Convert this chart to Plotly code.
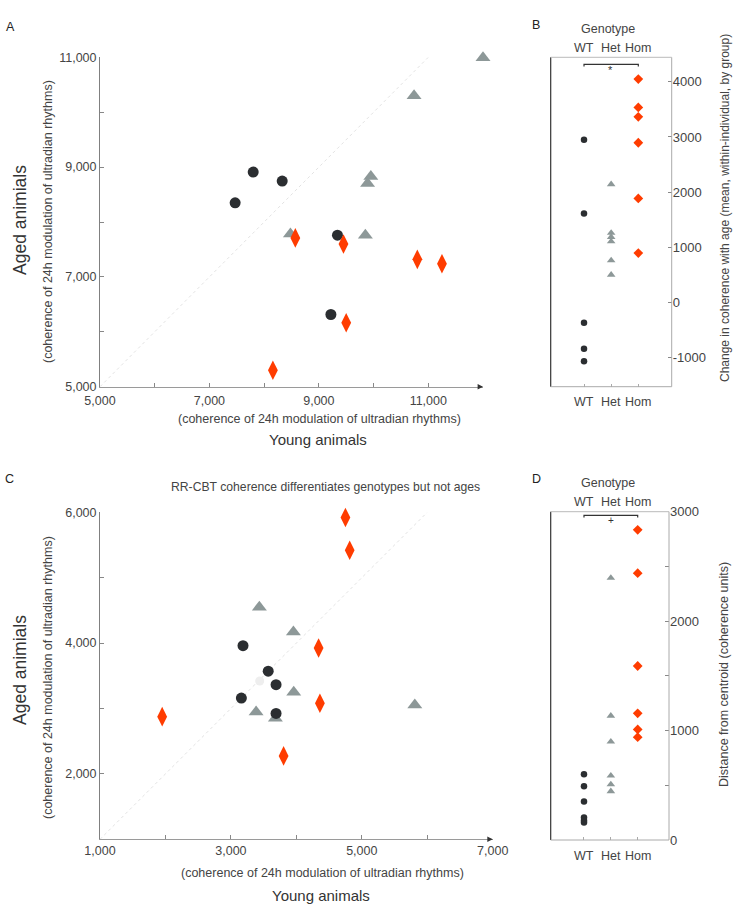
import plotly.graph_objects as go

W, H = 736, 905
FONT = "Liberation Sans, Arial, sans-serif"

# ---------------- DATA ----------------
# Panel A: young vs aged coherence
a_wt_young = [7470, 7800, 8330, 9340, 9220]
a_wt_aged = [8350, 8910, 8745, 7760, 6315]
a_het_young = [12000, 10740, 9950, 9890, 8480, 9850]
a_het_aged = [10990, 10300, 8830, 8700, 7780, 7760]
a_hom_young = [8570, 9450, 9500, 10800, 11250, 8160]
a_hom_aged = [7710, 7600, 6165, 7320, 7240, 5300]
a_diag = [5000, 11000]
a_xticks = [5000, 6000, 7000, 8000, 9000, 10000, 11000, 12000]
a_xtext = ["5,000", "", "7,000", "", "9,000", "", "11,000", ""]
a_yticks = [5000, 6000, 7000, 8000, 9000, 10000, 11000]
a_ytext = ["5,000", "", "7,000", "", "9,000", "", "11,000"]

# Panel B: change in coherence with age, by genotype
genotypes = ["WT", "Het", "Hom"]
b_wt = [2950, 1610, -370, -840, -1070]
b_het = [2140, 1260, 1185, 1105, 760, 500]
b_hom = [4050, 3535, 3365, 2895, 1885, 895]
b_yticks = [-1000, 0, 1000, 2000, 3000, 4000]

# Panel C: RR-CBT coherence, young vs aged
c_wt_young = [3185, 3570, 3690, 3160, 3690]
c_wt_aged = [3960, 3570, 3365, 3160, 2925]
c_het_young = [3435, 3955, 3960, 3385, 3680, 5810]
c_het_aged = [4550, 4170, 3250, 2945, 2850, 3055]
c_hom_young = [4750, 4815, 4340, 4360, 1950, 3805]
c_hom_aged = [5920, 5420, 3925, 3080, 2875, 2275]
c_faint_young = [3440]
c_faint_aged = [3420]
c_diag = [1000, 6000]
c_xticks = [1000, 2000, 3000, 4000, 5000, 6000, 7000]
c_xtext = ["1,000", "", "3,000", "", "5,000", "", "7,000"]
c_yticks = [2000, 3000, 4000, 5000, 6000]
c_ytext = ["2,000", "", "4,000", "", "6,000"]

# Panel D: distance from centroid, by genotype
d_wt = [600, 492, 352, 205, 178, 160]
d_het = [2395, 1135, 898, 588, 508, 445]
d_hom = [2835, 2438, 1590, 1158, 1010, 940]
d_yticks = [0, 500, 1000, 1500, 2000, 2500, 3000]
d_ytext = ["0", "", "1000", "", "2000", "", "3000"]

# ---------------- STYLE ----------------
C_WT = "#2b2e31"
C_HET = "#8d9898"
C_HOM = "#ff3c00"
TXT = "#444444"

def px(x, y):
    return x / W, 1 - y / H

fig = go.Figure()

def add_scatter(xs, ys, color, symbol, size, xa, ya):
    fig.add_trace(go.Scatter(x=xs, y=ys, mode="markers", xaxis=xa, yaxis=ya,
                             marker=dict(color=color, symbol=symbol, size=size,
                                         line=dict(width=0)),
                             cliponaxis=False, showlegend=False, hoverinfo="skip"))

# Panel A
fig.add_trace(go.Scatter(x=a_diag, y=a_diag, mode="lines", xaxis="x", yaxis="y",
                         line=dict(color="#e2e2e2", width=1, dash="dot"),
                         showlegend=False, hoverinfo="skip"))
add_scatter(a_wt_young, a_wt_aged, C_WT, "circle", 11, "x", "y")
add_scatter(a_het_young, a_het_aged, C_HET, "triangle-up", 13, "x", "y")
add_scatter(a_hom_young, a_hom_aged, C_HOM, "diamond-tall", 14, "x", "y")

# Panel B
add_scatter([genotypes.index("WT")] * len(b_wt), b_wt, C_WT, "circle", 6.5, "x2", "y2")
add_scatter([genotypes.index("Het")] * len(b_het), b_het, C_HET, "triangle-up", 7.5, "x2", "y2")
add_scatter([genotypes.index("Hom")] * len(b_hom), b_hom, C_HOM, "diamond", 7.5, "x2", "y2")

# Panel C
fig.add_trace(go.Scatter(x=c_diag, y=c_diag, mode="lines", xaxis="x3", yaxis="y3",
                         line=dict(color="#e2e2e2", width=1, dash="dot"),
                         showlegend=False, hoverinfo="skip"))
add_scatter(c_faint_young, c_faint_aged, "#eeeeee", "circle", 9, "x3", "y3")
add_scatter(c_het_young, c_het_aged, C_HET, "triangle-up", 13, "x3", "y3")
add_scatter(c_wt_young, c_wt_aged, C_WT, "circle", 11, "x3", "y3")
add_scatter(c_hom_young, c_hom_aged, C_HOM, "diamond-tall", 14, "x3", "y3")

# Panel D
add_scatter([genotypes.index("WT")] * len(d_wt), d_wt, C_WT, "circle", 6.5, "x4", "y4")
add_scatter([genotypes.index("Het")] * len(d_het), d_het, C_HET, "triangle-up", 7.5, "x4", "y4")
add_scatter([genotypes.index("Hom")] * len(d_hom), d_hom, C_HOM, "diamond", 7.5, "x4", "y4")

tickfont = dict(family=FONT, size=12.5, color=TXT)

def scatter_x(domain, rng, tv, tt, anchor, standoff):
    return dict(domain=domain, range=rng, anchor=anchor, showline=True, linecolor="#9a9a9a",
                linewidth=1, ticks="inside", ticklen=4, tickcolor="#888", tickwidth=1,
                tickvals=tv, ticktext=tt, tickfont=tickfont, showgrid=False, zeroline=False,
                ticklabelstandoff=standoff, fixedrange=True, automargin=False)

def scatter_y(domain, rng, tv, tt, anchor):
    return dict(domain=domain, range=rng, anchor=anchor, showline=True, linecolor="#808080",
                linewidth=1, ticks="inside", ticklen=4, tickcolor="#888", tickwidth=1,
                tickvals=tv, ticktext=tt, tickfont=tickfont, showgrid=False, zeroline=False,
                ticklabelstandoff=0, fixedrange=True, automargin=False)

def cat_x(domain, rng, anchor):
    return dict(domain=domain, range=rng, anchor=anchor, showline=False, showgrid=False,
                zeroline=False, tickvals=[0, 1, 2], ticktext=["", "", ""], ticks="inside",
                ticklen=3, tickcolor="#aaa", fixedrange=True, automargin=False)

def cat_y(domain, rng, tv, tt, anchor):
    return dict(domain=domain, range=rng, anchor=anchor, side="right", showline=False,
                showgrid=False, zeroline=False, ticks="inside", ticklen=4, tickcolor="#888",
                tickvals=tv, ticktext=tt, tickfont=dict(family=FONT, size=13, color=TXT),
                ticklabelstandoff=0, fixedrange=True, automargin=False)

yA = [1 - 386.7 / H, 1 - 57.3 / H]
yC = [1 - 839.3 / H, 1 - 512.3 / H]
yD = [1 - 840 / H, 1 - 511.7 / H]

fig.update_layout(
    template="none",
    width=W, height=H, margin=dict(l=0, r=0, t=0, b=0, pad=0, autoexpand=False),
    paper_bgcolor="white", plot_bgcolor="white",
    font=dict(family=FONT, color=TXT),
    xaxis=scatter_x([100 / W, 483 / W], [5000, 12000], a_xticks, a_xtext, "y", 2),
    yaxis=scatter_y(yA, [5000, 11000], a_yticks, a_ytext, "x"),
    xaxis2=cat_x([550.7 / W, 671.7 / W], [-1.227, 3.23], "y2"),
    yaxis2=cat_y(yA, [-1530, 4445], b_yticks, [str(v) for v in b_yticks], "x2"),
    xaxis3=scatter_x([100 / W, 492.7 / W], [1000, 7000], c_xticks, c_xtext, "y3", 0),
    yaxis3=scatter_y(yC, [1000, 6000], c_yticks, c_ytext, "x3"),
    xaxis4=cat_x([550.7 / W, 669 / W], [-1.24, 3.166], "y4"),
    yaxis4=cat_y(yD, [0, 3000], d_yticks, d_ytext, "x4"),
)

shapes = []
# boxes for B and D
for xr, yr in (("x2 domain", "y2 domain"), ("x4 domain", "y4 domain")):
    shapes.append(dict(type="line", xref=xr, yref=yr, x0=0, x1=0, y0=0, y1=1,
                       line=dict(color="#333", width=1.2)))
    shapes.append(dict(type="line", xref=xr, yref=yr, x0=1, x1=1, y0=0, y1=1,
                       line=dict(color="#aaa", width=1)))
    shapes.append(dict(type="line", xref=xr, yref=yr, x0=0, x1=1, y0=0, y1=0,
                       line=dict(color="#aaa", width=1)))
    shapes.append(dict(type="line", xref=xr, yref=yr, x0=0, x1=1, y0=1, y1=1,
                       line=dict(color="#bbb", width=1)))
# significance brackets
for xr, yr, yt, yb in (("x2", "y2 domain", 0.9787, 0.972), ("x4", "y4 domain", 0.989, 0.982)):
    shapes.append(dict(type="path", xref=xr, yref=yr,
                       path=f"M 0,{yb} L 0,{yt} L 2,{yt} L 2,{yb}",
                       line=dict(color="#333", width=1.2)))
fig.update_layout(shapes=shapes)

ann = []

def text(x, y, s, size, color=TXT, angle=0, xanchor="center", yanchor="middle"):
    X, Y = px(x, y)
    ann.append(dict(x=X, y=Y, xref="paper", yref="paper", text=s, showarrow=False,
                    font=dict(family=FONT, size=size, color=color), textangle=angle,
                    xanchor=xanchor, yanchor=yanchor))

# panel letters
text(4, 27, "A", 12.5, "#222", xanchor="left")
text(530, 25, "B", 12.5, "#222", xanchor="left")
text(3, 479, "C", 12.5, "#222", xanchor="left")
text(530, 479, "D", 12.5, "#222", xanchor="left")

SUB = "(coherence of 24h modulation of ultradian rhythms)"
# Panel A titles
text(20, 220, "Aged animials", 17.5, "#333", angle=-90)
text(48, 222, SUB, 12.5, "#444", angle=-90)
text(319, 419, SUB, 12.5, "#444")
text(318, 439, "Young animals", 15, "#333")

# Panel C titles
text(325, 487, "RR-CBT coherence differentiates genotypes but not ages", 12.2, "#444")
text(20, 670, "Aged animials", 17.5, "#333", angle=-90)
text(48, 678, SUB, 12.5, "#444", angle=-90)
text(322, 873, SUB, 12.5, "#444")
text(321, 895, "Young animals", 15, "#333")

# B / D category labels
for (ytop_g, ytop_l, ybot, xs) in ((29, 48, 401.7, (584, 610.7, 638.3)),
                                    (482.7, 501.7, 855.7, (584, 610.7, 637.7))):
    text(608, ytop_g, "Genotype", 12.5, "#444")
    for g, xx in zip(genotypes, xs):
        text(xx, ytop_l, g, 12.5, "#444")
        text(xx, ybot, g, 12.5, "#444")

text(610.7, 70, "*", 11, "#333")
text(610.7, 520, "+", 10, "#333")

text(725, 208, "Change in coherence with age (mean, within-individual, by group)", 12, "#444", angle=-90)
text(724, 675, "Distance from centroid (coherence units)", 12.5, "#444", angle=-90)

# axis arrows
for xr, yr, xv, yv in (("x", "y", 12000, 5000), ("x3", "y3", 7000, 1000)):
    ann.append(dict(x=xv, y=yv, xref=xr, yref=yr, ax=-5, ay=0, axref="pixel", ayref="pixel",
                    showarrow=True, arrowhead=2, arrowsize=0.9, arrowwidth=1.2,
                    arrowcolor="#333", text=""))

fig.update_layout(annotations=ann)
fig.write_html("out.html", config={"displayModeBar": False},
               post_script="document.body.style.margin='0px';document.body.style.overflow='hidden';")
